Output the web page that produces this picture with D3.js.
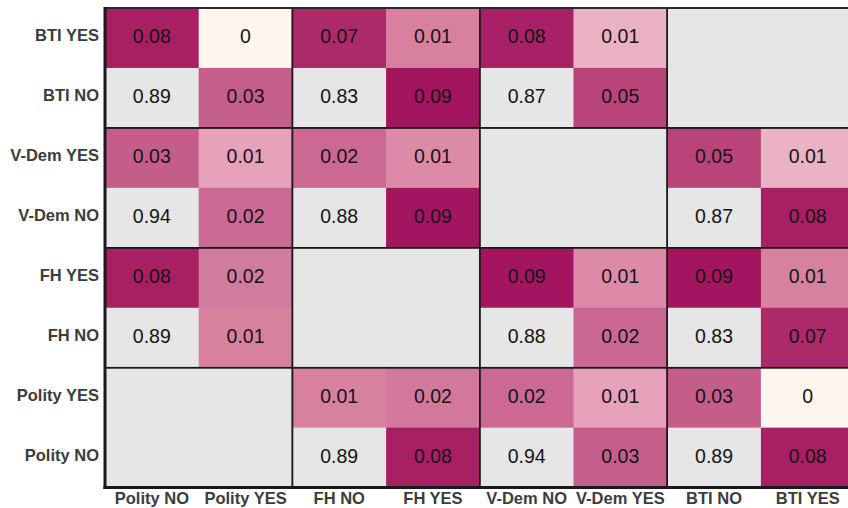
<!DOCTYPE html>
<html>
<head>
<meta charset="utf-8">
<script src="https://cdn.jsdelivr.net/npm/d3@7"></script>
<style>
  html, body { margin: 0; padding: 0; background: #ffffff; overflow: hidden; }
  svg { display: block; }
</style>
</head>
<body>
<div id="chart"></div>
<script>
// Row (y) and column (x) categories
const rowLabels = ["BTI YES", "BTI NO", "V-Dem YES", "V-Dem NO", "FH YES", "FH NO", "Polity YES", "Polity NO"];
const colLabels = ["Polity NO", "Polity YES", "FH NO", "FH YES", "V-Dem NO", "V-Dem YES", "BTI NO", "BTI YES"];

// Cell values per row (null = not compared); shown rounded to 2 decimals
const btiYes    = [0.08, 0, 0.07, 0.012, 0.079, 0.006, null, null];
const btiNo     = [0.89, 0.03, 0.83, 0.09, 0.87, 0.05, null, null];
const vdemYes   = [0.031, 0.007, 0.021, 0.01, null, null, 0.05, 0.006];
const vdemNo    = [0.94, 0.021, 0.88, 0.09, null, null, 0.87, 0.08];
const fhYes     = [0.08, 0.016, null, null, 0.09, 0.01, 0.09, 0.012];
const fhNo      = [0.89, 0.012, null, null, 0.88, 0.022, 0.83, 0.07];
const polityYes = [null, null, 0.012, 0.017, 0.021, 0.007, 0.031, 0];
const polityNo  = [null, null, 0.89, 0.08, 0.94, 0.03, 0.89, 0.08];

const rows = [btiYes, btiNo, vdemYes, vdemNo, fhYes, fhNo, polityYes, polityNo];

// Colour scale for disagreement shares
const colorStops = [0, 0.006, 0.007, 0.01, 0.012, 0.016, 0.021, 0.03, 0.05, 0.07, 0.08, 0.09];
const colorRange = ["#fff5ef", "#ebb2c4", "#e7a1b8", "#dd8aa8", "#d8819f", "#d27c9d", "#cb6893", "#c65e8b", "#b84479", "#ac2a6a", "#a81f64", "#a3155f"];

(function () {
const W = 848, H = 508;
const plotLeft = 105, plotTop = 8;
const cellW = 93.7, cellH = 59.95;

const svg = d3.select("#chart").append("svg").attr("width", W).attr("height", H);

const x = d3.scaleBand().domain(colLabels).range([plotLeft, plotLeft + cellW * colLabels.length]).padding(0);
const y = d3.scaleBand().domain(rowLabels).range([plotTop, plotTop + cellH * rowLabels.length]).padding(0);
const color = d3.scaleLinear().domain(colorStops).range(colorRange).interpolate(d3.interpolateRgb).clamp(true);

const cells = [];
rows.forEach((vals, i) => vals.forEach((v, j) => cells.push({ r: rowLabels[i], c: colLabels[j], v })));

const g = svg.append("g");
g.selectAll("rect.cell").data(cells).join("rect")
  .attr("class", "cell")
  .attr("x", d => x(d.c))
  .attr("y", d => y(d.r))
  .attr("width", x.bandwidth() + 0.5)
  .attr("height", y.bandwidth() + 0.5)
  .attr("fill", d => (d.v === null || d.v > 0.5) ? "#e6e6e6" : color(d.v));

g.selectAll("text.val").data(cells.filter(d => d.v !== null)).join("text")
  .attr("class", "val")
  .attr("x", d => x(d.c) + x.bandwidth() / 2)
  .attr("y", d => y(d.r) + y.bandwidth() / 2 - 2)
  .attr("text-anchor", "middle")
  .attr("dominant-baseline", "central")
  .attr("font-family", "Liberation Sans, Arial, sans-serif")
  .attr("font-size", 19.5)
  .attr("fill", "#151515")
  .text(d => String(Math.round(d.v * 100) / 100));

// Block borders (2x2 groups)
const blocks = [];
for (let bi = 0; bi < 4; bi++) for (let bj = 0; bj < 4; bj++) blocks.push({ r: rowLabels[bi * 2], c: colLabels[bj * 2] });
g.selectAll("rect.block").data(blocks).join("rect")
  .attr("class", "block")
  .attr("x", d => x(d.c))
  .attr("y", d => y(d.r))
  .attr("width", x.bandwidth() * 2)
  .attr("height", y.bandwidth() * 2)
  .attr("fill", "none")
  .attr("stroke", "#1a1a1a")
  .attr("stroke-width", 1.5);

// Outer frame: thicker left and bottom, medium top
const x0 = x.range()[0], x1 = x.range()[1], y0 = y.range()[0], y1 = y.range()[1];
svg.append("line").attr("x1", x0).attr("x2", x1).attr("y1", y0).attr("y2", y0).attr("stroke", "#2a2a2a").attr("stroke-width", 2.2);
svg.append("line").attr("x1", x0).attr("x2", x0).attr("y1", y0 - 1).attr("y2", y1 + 1.5).attr("stroke", "#1a1a1a").attr("stroke-width", 3);
svg.append("line").attr("x1", x0 - 1.5).attr("x2", x1).attr("y1", y1).attr("y2", y1).attr("stroke", "#1a1a1a").attr("stroke-width", 3);

// Axis labels
const axisFont = "Liberation Sans, Arial, sans-serif";
const yAxis = d3.axisLeft(y).tickSize(0).tickPadding(6);
const ya = svg.append("g").attr("transform", `translate(${x0},0)`).call(yAxis);
ya.select(".domain").remove();
ya.selectAll("text").attr("font-family", axisFont).attr("font-size", 16.5).attr("font-weight", "bold").attr("fill", "#3c3c3c").attr("dy", "0.2em");

const xAxis = d3.axisBottom(x).tickSize(0).tickPadding(5);
const xa = svg.append("g").attr("transform", `translate(0,${y1})`).call(xAxis);
xa.select(".domain").remove();
xa.selectAll("text").attr("font-family", axisFont).attr("font-size", 16.5).attr("font-weight", "bold").attr("fill", "#3c3c3c");
})();
</script>
</body>
</html>
